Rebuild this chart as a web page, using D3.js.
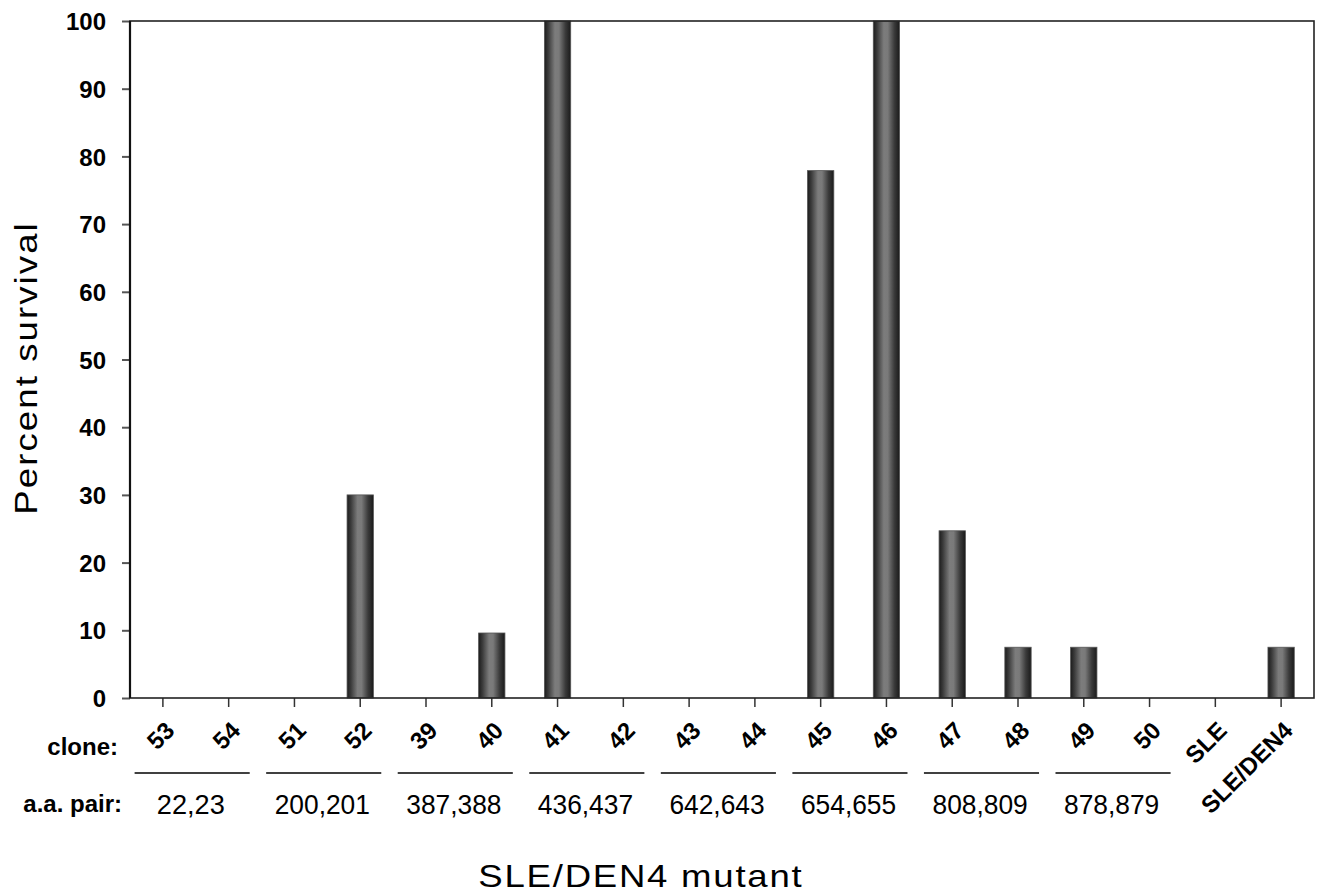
<!DOCTYPE html>
<html>
<head>
<meta charset="utf-8">
<script src="https://cdn.jsdelivr.net/npm/d3@7"></script>
<style>
  body { margin: 0; background: #fff; }
  text { font-family: Arial, "Liberation Sans", sans-serif; fill: #000; }
</style>
</head>
<body>
<div id="chart"></div>
<script>
// clone numbers along the x axis
var clones = ["53","54","51","52","39","40","41","42","43","44","45","46","47","48","49","50","SLE","SLE/DEN4"];
// percent survival per clone
var survival = [0, 0, 0, 30, 0, 9.6, 100, 0, 0, 0, 77.9, 100, 24.7, 7.5, 7.5, 0, 0, 7.5];
// amino acid pair labels, one per two clones
var pairs = ["22,23","200,201","387,388","436,437","642,643","654,655","808,809","878,879"];
var yTicks = [0, 10, 20, 30, 40, 50, 60, 70, 80, 90, 100];

var W = 1323, H = 896;
var margin = {top: 21, right: 9, bottom: 198, left: 130};
var width = W - margin.left - margin.right,
    height = H - margin.top - margin.bottom;

var svg = d3.select("#chart").append("svg")
  .attr("width", W)
  .attr("height", H);

// cylinder-ish shading on the bars
var grad = svg.append("defs").append("linearGradient")
  .attr("id", "barGrad")
  .attr("x1", "0%").attr("x2", "100%").attr("y1", "0%").attr("y2", "0%");
grad.selectAll("stop")
  .data([["0%","#1c1c1c"],["15%","#3c3c3c"],["40%","#7c7c7c"],["55%","#7a7a7a"],["80%","#3a3a3a"],["100%","#1a1a1a"]])
  .join("stop")
  .attr("offset", d => d[0])
  .attr("stop-color", d => d[1]);

var g = svg.append("g")
  .attr("transform", "translate(" + margin.left + "," + margin.top + ")");

var x = d3.scaleBand()
  .domain(clones)
  .range([0, width])
  .paddingInner(0.6)
  .paddingOuter(0.3);

var y = d3.scaleLinear()
  .domain([0, 100])
  .range([height, 0]);

var step = x.step();
function cx(d) { return x(d) + x.bandwidth() / 2; }

var bars = clones.map((c, i) => ({clone: c, value: survival[i]}))
  .filter(d => d.value > 0);

// bars
g.selectAll("rect.bar")
  .data(bars)
  .join("rect")
  .attr("class", "bar")
  .attr("x", d => x(d.clone))
  .attr("width", x.bandwidth())
  .attr("y", d => y(d.value))
  .attr("height", d => height - y(d.value))
  .attr("fill", "url(#barGrad)")
  .attr("stroke", "#555")
  .attr("stroke-width", 0.8);

// y axis
var yAxis = g.append("g")
  .call(d3.axisLeft(y).tickValues(yTicks).tickSize(8).tickSizeOuter(0).tickPadding(16));
yAxis.select(".domain").remove();
yAxis.selectAll("line").attr("stroke", "#555").attr("stroke-width", 2);
yAxis.selectAll("text")
  .style("font-size", "24px")
  .style("font-weight", "bold")
  .attr("dy", "0.36em");

// x axis ticks (labels drawn by hand below)
var xAxis = g.append("g")
  .attr("transform", "translate(0," + height + ")")
  .call(d3.axisBottom(x).tickSize(9).tickSizeOuter(0).tickFormat(""));
xAxis.select(".domain").remove();
xAxis.selectAll("line").attr("stroke", "#333").attr("stroke-width", 1.5);

// frame
g.append("rect")
  .attr("x", 0).attr("y", 0)
  .attr("width", width).attr("height", height)
  .attr("fill", "none")
  .attr("stroke", "#222")
  .attr("stroke-width", 1.6);
g.append("line")
  .attr("x1", 0).attr("x2", 0).attr("y1", 0).attr("y2", height)
  .attr("stroke", "#111").attr("stroke-width", 2.2);

// rotated clone labels
g.selectAll("text.clone")
  .data(clones)
  .join("text")
  .attr("class", "clone")
  .attr("transform", d => "translate(" + (cx(d) + 13) + "," + (height + 34) + ") rotate(-45)")
  .attr("text-anchor", "end")
  .style("font-size", "24px")
  .style("font-weight", "bold")
  .text(d => d);

// group lines and pair labels
var pg = g.selectAll("g.pair")
  .data(pairs)
  .join("g")
  .attr("class", "pair");
pg.append("line")
  .attr("x1", (d, i) => cx(clones[2 * i]) - step * 0.43)
  .attr("x2", (d, i) => cx(clones[2 * i + 1]) + step * 0.32)
  .attr("y1", height + 75)
  .attr("y2", height + 75)
  .attr("stroke", "#000")
  .attr("stroke-width", 1.5);
pg.append("text")
  .attr("x", (d, i) => (cx(clones[2 * i]) + cx(clones[2 * i + 1])) / 2 - 5)
  .attr("y", height + 116)
  .attr("text-anchor", "middle")
  .style("font-size", "27px")
  .style("font-weight", "500")
  .attr("textLength", d => d.length * 13.6)
  .attr("lengthAdjust", "spacingAndGlyphs")
  .text(d => d);

// row captions
svg.append("text")
  .attr("x", 118).attr("y", 755)
  .attr("text-anchor", "end")
  .style("font-size", "24px")
  .style("font-weight", "bold")
  .text("clone:");
svg.append("text")
  .attr("x", 122).attr("y", 812)
  .attr("text-anchor", "end")
  .style("font-size", "24px")
  .style("font-weight", "bold")
  .text("a.a. pair:");

// axis titles
svg.append("text")
  .attr("transform", "translate(37,369) rotate(-90) scale(1.18,1)")
  .attr("text-anchor", "middle")
  .attr("textLength", 247)
  .attr("lengthAdjust", "spacing")
  .style("font-size", "31px")
  .text("Percent survival");

svg.append("text")
  .attr("transform", "translate(640,887) scale(1.18,1)")
  .attr("text-anchor", "middle")
  .attr("textLength", 274)
  .attr("lengthAdjust", "spacing")
  .style("font-size", "31px")
  .text("SLE/DEN4 mutant");
</script>
</body>
</html>
